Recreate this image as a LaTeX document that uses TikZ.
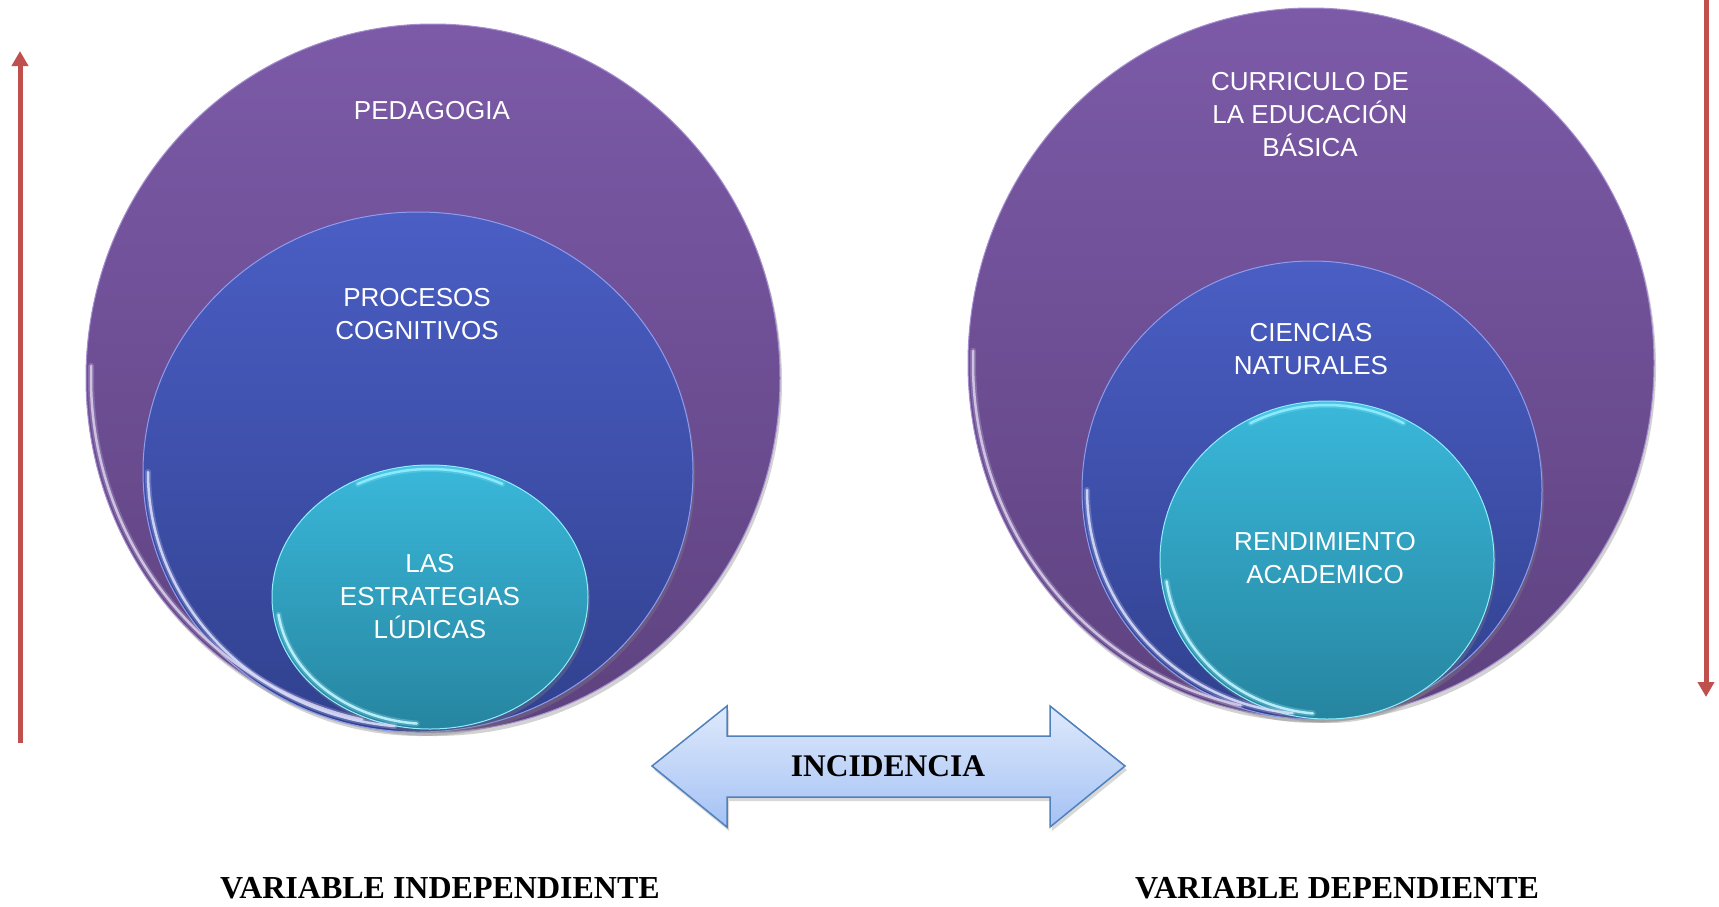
\documentclass[tikz,border=0pt]{standalone}
\usepackage{fontspec}
\setmainfont{Liberation Serif}
\newfontfamily\arialf{Liberation Sans}
\usetikzlibrary{shapes.geometric,shadows,arrows.meta}
\definecolor{purtop}{HTML}{7C5AA8}
\definecolor{purbot}{HTML}{5E427F}
\definecolor{purrim}{HTML}{A58ED0}
\definecolor{blutop}{HTML}{4A5EC4}
\definecolor{blubot}{HTML}{31418F}
\definecolor{blurim}{HTML}{8E9CF0}
\definecolor{cyatop}{HTML}{3AB8DA}
\definecolor{cyabot}{HTML}{2685A0}
\definecolor{cyarim}{HTML}{8FEFFF}
\definecolor{arrred}{HTML}{C0504D}
\definecolor{arrtop}{HTML}{DEE9FC}
\definecolor{arrbot}{HTML}{A5C2F4}
\definecolor{arrline}{HTML}{4F81BD}
\tikzset{
  orb/.style={ellipse, inner sep=0pt, shading=axis, line width=1pt,
    drop shadow={shadow xshift=2pt, shadow yshift=-4pt, opacity=0.35}},
  outerorb/.style={orb, top color=purtop, bottom color=purbot, draw=purrim},
  midorb/.style={orb, top color=blutop, bottom color=blubot, draw=blurim},
  innerorb/.style={orb, top color=cyatop, bottom color=cyabot, draw=cyarim},
  lbl/.style={text=white, align=center, font=\arialf\fontsize{26}{33}\selectfont},
  boldlbl/.style={text=black, font=\bfseries\fontsize{31.5}{36}\selectfont},
  caplbl/.style={text=black, font=\bfseries\fontsize{32}{36}\selectfont},
  redarrow/.style={draw=arrred, line width=5pt, -{Triangle[length=15pt,width=16pt]}},
  rimsoft/.style={line width=6pt, opacity=0.25, line cap=round},
  rim/.style={line width=2.5pt, opacity=0.9, line cap=round},
}
\newcommand{\glossarc}[5]{% color, rx, ry, start, end
  \draw[rimsoft, #1] (#4:#2 and #3) arc[start angle=#4, end angle=#5, x radius=#2, y radius=#3];
  \draw[rim, #1] (#4:#2 and #3) arc[start angle=#4, end angle=#5, x radius=#2, y radius=#3];
}
\begin{document}
\begin{tikzpicture}[x=1pt,y=-1pt]
\useasboundingbox[fill=white] (0,0) rectangle (1719,906);

% left group
\node[outerorb, minimum width=694pt, minimum height=708pt] (lo) at (433,378) {};
\node[midorb, minimum width=550pt, minimum height=520pt] (lm) at (418,472) {};
\node[innerorb, minimum width=316pt, minimum height=264pt] (li) at (430,597) {};

% right group
\node[outerorb, minimum width=686pt, minimum height=710pt] (ro) at (1311,363) {};
\node[midorb, minimum width=460pt, minimum height=458pt] (rm) at (1312,490) {};
\node[innerorb, minimum width=334pt, minimum height=318pt] (ri) at (1327,560) {};

% glossy rims
\begin{scope}[shift={(lo.center)}, yscale=-1]
  \glossarc{white!55!purrim}{342}{349}{178}{258}
\end{scope}
\begin{scope}[shift={(lm.center)}, yscale=-1]
  \glossarc{white!65!blurim}{270}{255}{180}{265}
\end{scope}
\begin{scope}[shift={(li.center)}, yscale=-1]
  \glossarc{white!45!cyarim}{153}{127}{188}{265}
  \glossarc{cyarim}{154}{128}{62}{118}
\end{scope}
\begin{scope}[shift={(ro.center)}, yscale=-1]
  \glossarc{white!55!purrim}{338}{350}{178}{258}
\end{scope}
\begin{scope}[shift={(rm.center)}, yscale=-1]
  \glossarc{white!65!blurim}{225}{224}{180}{265}
\end{scope}
\begin{scope}[shift={(ri.center)}, yscale=-1]
  \glossarc{white!45!cyarim}{162}{154}{188}{265}
  \glossarc{cyarim}{163}{155}{62}{118}
\end{scope}

% labels
\node[lbl] (tped) at (432,111) {PEDAGOGIA};
\node[lbl] (tproc) at (417,314) {PROCESOS\\COGNITIVOS};
\node[lbl] (test) at (430,597) {LAS\\ESTRATEGIAS\\LÚDICAS};
\node[lbl] (tcur) at (1310,115) {CURRICULO DE\\LA EDUCACIÓN\\BÁSICA};
\node[lbl] (tcie) at (1311,349) {CIENCIAS\\NATURALES};
\node[lbl] (tren) at (1325,558) {RENDIMIENTO\\ACADEMICO};

% red arrows
\coordinate (lbot) at (20,743);
\coordinate (ltop) at (20,51);
\coordinate (rtop) at (1706,0);
\coordinate (rbot) at (1706,697);
\draw[redarrow] (lbot) -- (ltop);
\draw[redarrow] (rtop) -- (rbot);

% double arrow
\draw[draw=arrline, line width=1.5pt, line join=miter, shading=axis, top color=arrtop, bottom color=arrbot,
  drop shadow={shadow xshift=2pt, shadow yshift=-4pt, opacity=0.3}]
  (652,766) -- (727,706) -- (727,736) -- (1050,736) -- (1050,706) -- (1125,766)
  -- (1050,827) -- (1050,797) -- (727,797) -- (727,827) -- cycle;
\node[boldlbl] (tinc) at (888,766) {INCIDENCIA};

% bottom captions
\node[caplbl] (vind) at (440,888) {VARIABLE INDEPENDIENTE};
\node[caplbl] (vdep) at (1337,888) {VARIABLE DEPENDIENTE};
\end{tikzpicture}
\end{document}
